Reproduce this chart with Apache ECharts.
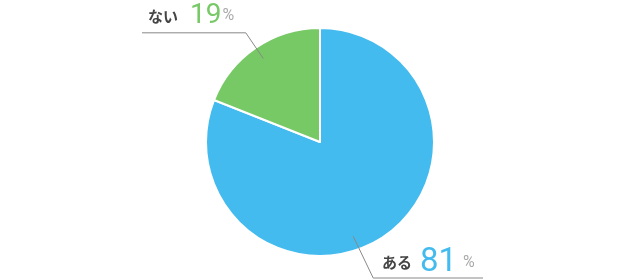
<!DOCTYPE html>
<html><head><meta charset="utf-8">
<script src="https://cdn.jsdelivr.net/npm/echarts@6/dist/echarts.min.js"></script>
<style>html,body{margin:0;padding:0;background:#fff}#c{width:640px;height:280px}</style>
</head><body><div id="c"></div>
<script>
const categories = ['ある', 'ない'];
const values = [81, 19];
const colors = ['#44BBEE', '#77C966'];

const CX = 320, CY = 142, R = 114;
const chart = echarts.init(document.getElementById('c'), null, {renderer: 'canvas'});

function pt(r, deg) {
  const a = deg * Math.PI / 180;
  return [CX + r * Math.cos(a), CY - r * Math.sin(a)];
}

const numFont = 'Roboto, "Noto Sans", sans-serif';
const jpFont = '"Noto Sans CJK JP", sans-serif';

const base = {
  type: 'pie',
  center: [CX, CY],
  radius: [0, R],
  startAngle: 90,
  clockwise: true,
  silent: true
};

chart.setOption({
  animation: false,
  series: [Object.assign({}, base, {
    z: 1,
    itemStyle: {borderColor: '#fff', borderWidth: 2},
    label: {show: false},
    labelLine: {show: false},
    data: categories.map((c, i) => ({name: c, value: values[i], itemStyle: {color: colors[i]}}))
  }), Object.assign({}, base, {
    z: 5,
    itemStyle: {color: 'rgba(0,0,0,0)', borderWidth: 0},
    labelLine: {show: true, showAbove: true, lineStyle: {color: '#888', width: 1}},
    data: categories.map((c, i) => ({
      name: c, value: values[i],
      label: {
        show: true,
        formatter: '{n|{b}}{v|{c}}{p|%}',
        rich: {
          n: {fontFamily: jpFont, fontWeight: 'bold', fontSize: 15, lineHeight: i === 0 ? 9 : 11, color: '#444', padding: [0, i === 0 ? 8 : 12, 0, 0]},
          v: {fontFamily: numFont, fontSize: i === 0 ? 33 : 28, lineHeight: i === 0 ? 33 : 28, color: colors[i], padding: [0, i === 0 ? 6 : 1, 0, 0]},
          p: {fontFamily: numFont, fontSize: 16, lineHeight: 16, color: '#aaa'}
        }
      }
    })),
    labelLayout: function (params) {
      if (params.dataIndex === 1) {
        const ang = 124.2;
        const p0 = pt(101, ang), p1 = pt(132, ang);
        return {x: 148, y: 30, align: 'left', verticalAlign: 'bottom',
          labelLinePoints: [p0, p1, [142, p1[1]]]};
      } else {
        const p0 = pt(100, -70.6);
        const p1 = [p0[0] + 20, 278];
        return {x: 382, y: 279, align: 'left', verticalAlign: 'bottom',
          labelLinePoints: [p0, p1, [483, 278]]};
      }
    }
  })]
});
</script></body></html>
